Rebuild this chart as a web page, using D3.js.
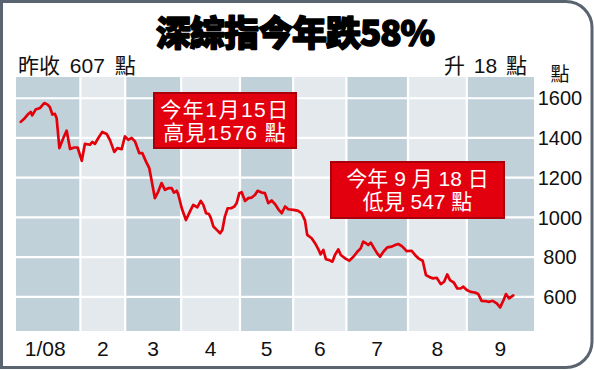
<!DOCTYPE html>
<html><head><meta charset="utf-8">
<script src="https://cdn.jsdelivr.net/npm/d3@7"></script>
<style>
html,body{margin:0;padding:0;background:#fff;}
svg{display:block;}
</style></head><body>
<svg id="chart" width="594" height="370"></svg>
<script>
// ---------- data ----------
const titleText = "深綜指今年跌58%";
const leftNote = "昨收 607 點";
const rightNote = "升 18 點";
const unitLabel = "點";
const months = ["1/08","2","3","4","5","6","7","8","9"];
const monthSessions = [23,16,20,21,19,19,22,21,24];
const yTicks = [600,800,1000,1200,1400,1600];
const highNote = ["今年1月15日","高見1576 點"];
const lowNote = ["今年 9 月 18 日","低見 547 點"];
// trading-session position (from start of 2008) of each reading
const sessionPos = [1.7,3.2,4.4,5.25,5.8,7.0,8.6,10.1,11.3,12.1,13.0,13.9,14.5,15.5,16.9,18.1,19.3,20.8,22.0,23.5,
24.6,26.4,27.3,28.2,29.4,30.8,32.4,33.6,35.1,36.2,37.75,38.9,40.1,41.3,42.5,44.0,45.1,46.4,47.6,48.5,
49.6,50.8,52.0,53.2,54.4,55.6,56.4,57.4,58.0,59.2,60.7,62.1,63.3,64.75,66.0,66.9,67.9,68.9,69.6,70.5,
71.7,72.9,73.7,74.6,75.6,76.8,78.0,78.8,79.75,80.6,81.8,83.0,84.2,85.4,86.3,87.75,88.9,90.1,91.3,92.5,
93.7,94.9,96.1,97.25,99.0,100.6,102.0,103.2,104.0,105.6,106.8,108.0,108.8,109.75,110.7,111.9,113.0,113.9,115.1,116.0,
117.5,119.0,120.5,121.9,123.1,124.0,125.0,125.8,126.7,127.9,129.0,130.0,131.2,132.6,134.2,135.4,136.5,137.75,138.3,139.5,
141.3,142.5,143.7,145.25,146.4,147.9,149.0,150.25,151.7,152.9,154.0,155.0,156.4,157.6,158.8,159.75,161.0,162.4,163.9,165.1,
166.3,167.9,169.0,170.25,171.7,172.9,174.1,175.0,176.1,177.6];
const indexValues = [1481,1501,1521,1531,1514,1543,1551,1576,1568,1555,1518,1521,1501,1349,1400,1437,1344,1352,1352,1285,
1370,1366,1380,1370,1400,1430,1420,1388,1330,1349,1344,1408,1391,1400,1383,1324,1324,1282,1248,1181,
1097,1130,1173,1139,1147,1147,1125,1134,1114,1046,987,1029,1063,1051,1083,1063,1021,1017,996,954,
937,920,937,1004,1046,1046,1055,1072,1122,1127,1083,1097,1100,1114,1134,1125,1122,1072,1085,1067,
1041,1021,1055,1041,1038,1034,1021,985,912,895,870,839,814,836,789,785,777,811,839,811,
794,782,802,827,844,878,870,861,873,844,819,802,827,849,853,861,866,856,849,830,
832,811,794,782,710,698,693,696,664,676,713,684,671,642,642,651,634,625,622,614,
580,578,575,580,567,547,583,614,592,607];

// ---------- layout ----------
const W = 594, H = 370;
const plot = {left:16, right:534, top:77, bottom:331};
const latin = "'Liberation Sans', Arial, 'Noto Sans CJK TC', sans-serif";
const svg = d3.select("#chart");

const total = d3.sum(monthSessions);
const x = d3.scaleLinear().domain([0,total]).range([plot.left, plot.right]);
const y = d3.scaleLinear().domain([428,1707]).range([plot.bottom, plot.top]);

// frame
const r = 26, fx0 = 1.5, fy0 = 1.5, fx1 = 592, fy1 = 367.5;
svg.append("path")
  .attr("d", `M${fx0},${fy0} H${fx1-r} A${r},${r} 0 0 1 ${fx1},${fy0+r} V${fy1-r} A${r},${r} 0 0 1 ${fx1-r},${fy1} H${fx0} Z`)
  .attr("fill","#fff").attr("stroke","#5a6470").attr("stroke-width",3);

// month bands
const starts = d3.cumsum([0, ...monthSessions]);
const bands = months.map((m,i)=>({m, s:starts[i], e:starts[i+1], i}));
svg.append("g").selectAll("rect").data(bands).join("rect")
  .attr("x", d=>x(d.s)).attr("width", d=>x(d.e)-x(d.s))
  .attr("y", plot.top).attr("height", plot.bottom-plot.top)
  .attr("fill", d=> d.i%2===0 ? "#c1d1d9" : "#e4e9ed");

// white grid lines
svg.append("g").selectAll("line").data(starts.slice(1,-1)).join("line")
  .attr("x1", d=>x(d)).attr("x2", d=>x(d))
  .attr("y1", plot.top).attr("y2", plot.bottom)
  .attr("stroke","#fff").attr("stroke-width",2.2);
svg.append("g").selectAll("line").data(yTicks).join("line")
  .attr("x1", plot.left).attr("x2", plot.right)
  .attr("y1", d=>y(d)).attr("y2", d=>y(d))
  .attr("stroke","#fff").attr("stroke-width",2.2);

// line
const series = sessionPos.map((t,i)=>[t, indexValues[i]]);
svg.append("path").datum(series)
  .attr("d", d3.line().x(d=>x(d[0])).y(d=>y(d[1])))
  .attr("fill","none").attr("stroke","#e3000b").attr("stroke-width",2.7)
  .attr("stroke-linejoin","round").attr("stroke-linecap","round");

// y axis labels
svg.append("g").selectAll("text").data(yTicks).join("text")
  .attr("x", 560).attr("y", d=>y(d)).attr("dy","0.36em")
  .attr("text-anchor","middle")
  .style("font-family", latin).style("font-size","20px").attr("fill","#111")
  .text(d=>d);
svg.append("text").attr("x",560).attr("y",81).attr("text-anchor","middle")
  .style("font-family", latin).style("font-size","19px").attr("fill","#111").text(unitLabel);

// x axis labels
svg.append("g").selectAll("text").data(bands).join("text")
  .attr("x", d=>(x(d.s)+x(d.e))/2 - (d.i===0?3:0)).attr("y", 356)
  .attr("text-anchor","middle")
  .style("font-family", latin).style("font-size","21px").attr("fill","#111")
  .text(d=>d.m);

// title
svg.append("text").attr("x", 295).attr("y", 46).attr("text-anchor","middle")
  .style("font-family","'Noto Sans CJK TC', sans-serif").style("font-weight","900")
  .style("font-size","35px").style("letter-spacing","-1px")
  .attr("fill","#000").attr("stroke","#000").attr("stroke-width",1.6)
  .attr("stroke-linejoin","round")
  .text(titleText);

// sub notes
svg.append("text").attr("x", 18).attr("y", 73)
  .style("font-family", latin).style("font-size","21px").style("word-spacing","4px")
  .attr("fill","#111").text(leftNote);
svg.append("text").attr("x", 527).attr("y", 73).attr("text-anchor","end")
  .style("font-family", latin).style("font-size","21px").style("word-spacing","3px")
  .attr("fill","#111").text(rightNote);

// annotation boxes
function note(lines, x0, y0, w, h, spacing){
  const g = svg.append("g");
  g.append("rect").attr("x",x0).attr("y",y0).attr("width",w).attr("height",h)
    .attr("fill","#e2000f").attr("stroke","#a8000a").attr("stroke-width",2);
  g.selectAll("text").data(lines).join("text")
    .attr("x", x0+w/2).attr("y",(d,i)=>y0+24+i*23).attr("text-anchor","middle")
    .style("font-family", latin).style("font-size","21px")
    .style("letter-spacing",(d,i)=>spacing[i]+"px").attr("fill","#fff")
    .text(d=>d);
}
note(highNote, 154, 93, 142, 55, [1.5,1]);
note(lowNote, 331, 162, 173, 56, [0,0]);
</script>
</body></html>
